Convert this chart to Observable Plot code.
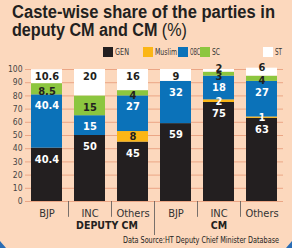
<!DOCTYPE html>
<html>
<head>
<meta charset="utf-8">
<script src="https://cdn.jsdelivr.net/npm/d3@7"></script>
<script src="https://cdn.jsdelivr.net/npm/@observablehq/plot@0.6"></script>
<style>
  html, body { margin: 0; padding: 0; }
  body { width: 292px; height: 248px; background: #fcd8bd; position: relative; overflow: hidden; font-family: "Liberation Sans Narrow", "DejaVu Sans Condensed", sans-serif; }
  #title { position: absolute; left: 12px; top: 3px; font-family: "Liberation Sans", sans-serif; font-weight: bold; font-size: 18px; line-height: 18px; color: #231f20; white-space: nowrap; }
  #title div { display: inline-block; transform-origin: 0 0; }
  #title .pct { font-weight: normal; }
  #legend { position: absolute; top: 47px; left: 0; width: 292px; height: 12px; }
  .lg { position: absolute; top: 0; height: 10px; white-space: nowrap; }
  .lg .sw { position: absolute; left: 0; top: 0; width: 10px; height: 10px; }
  .lg .tx { position: absolute; left: 12px; top: -1px; font-size: 9px; line-height: 12px; color: #333; transform-origin: 0 0; }
  #chart { position: absolute; left: 0; top: 60px; }
  #source { position: absolute; left: 123px; top: 235px; font-size: 9px; color: #222; white-space: nowrap; transform-origin: 0 0; }
  .corner { position: absolute; bottom: 0; width: 0; height: 0; }
</style>
</head>
<body>
<div id="title"><div id="t1">Caste-wise share of the parties in</div><br><div id="t2">deputy CM and CM <span class="pct">(%)</span></div></div>
<div id="legend"></div>
<div id="chart"></div>
<div id="source">Data Source:HT Deputy Chief Minister Database</div>
<div class="corner" style="left:0;border-bottom:7px solid #2a6db5;border-right:6px solid transparent;"></div>
<div class="corner" style="right:0;border-bottom:7px solid #2a6db5;border-left:6px solid transparent;"></div>
<script>
const parties = ["BJP", "INC", "Others", "BJP", "INC", "Others"];
const groups = ["DEPUTY CM", "DEPUTY CM", "DEPUTY CM", "CM", "CM", "CM"];
const castes = ["GEN", "Muslim", "OBC", "SC", "ST"];
const casteColors = ["#231f20", "#fbb616", "#0b72b9", "#8cc63f", "#ffffff"];
const GEN = [40.4, 50, 45, 59, 75, 63];
const Muslim = [0, 0, 8, 0, 2, 1];
const OBC = [40.4, 15, 27, 32, 18, 27];
const SC = [8.5, 15, 4, 0, 3, 4];
const ST = [10.6, 20, 16, 9, 2, 6];
const yTicks = [0, 10, 20, 30, 40, 50, 60, 70, 80, 90, 100];

const series = [GEN, Muslim, OBC, SC, ST];
const keys = parties.map((p, i) => groups[i] + "|" + p);
const rows = [];
castes.forEach((c, ci) => {
  series[ci].forEach((v, i) => rows.push({key: keys[i], caste: c, value: v, ci}));
});

function fitWidth(el, target) {
  const w = el.getBoundingClientRect().width;
  if (w > 0) el.style.transform = `scaleX(${target / w})`;
}
fitWidth(document.getElementById("t1"), 263);
fitWidth(document.getElementById("t2"), 175);
fitWidth(document.getElementById("source"), 156);

// legend
const legend = document.getElementById("legend");
const legendX = [103, 143, 178, 200, 263];
const legendTextW = [13, 21, 9, 7, 6];
castes.forEach((c, i) => {
  const d = document.createElement("div");
  d.className = "lg";
  d.style.left = legendX[i] + "px";
  d.innerHTML = `<span class="sw" style="background:${casteColors[i]}"></span><span class="tx">${c}</span>`;
  legend.appendChild(d);
  fitWidth(d.querySelector(".tx"), legendTextW[i] + 1);
});

const sepRows = [0, 1, 3, 4].map(i => ({key: keys[i], y2: -12}));
const groupSep = [{key: keys[2], y2: -26}];

const stackOpts = {x: "key", y: "value", z: "caste", order: castes};
const labelColor = d => {
  if (d.caste === "GEN" || d.caste === "OBC") return "#ffffff";
  if (d.caste === "Muslim") return d.value >= 5 ? "#231f20" : "#ffffff";
  return "#231f20";
};
const textStyle = {fontSize: 11, fontWeight: "bold", fill: labelColor};
// which segments have their label near the top vs the centre
const isTop = d => d.value > 0 && (d.caste === "GEN" || d.caste === "OBC");
const isMuslim = d => d.value > 0 && d.caste === "Muslim";
const isSC = d => d.value > 0 && d.caste === "SC";
const isStBig = d => d.value >= 9 && d.caste === "ST";
const isStSmall = d => d.value > 0 && d.value < 9 && d.caste === "ST";
const label = (pred) => (d) => pred(d) ? String(d.value) : null;

const chart = Plot.plot({
  width: 292,
  height: 175,
  marginLeft: 25,
  marginRight: 9,
  marginTop: 9,
  marginBottom: 34,
  style: {background: "transparent", fontFamily: "'Liberation Sans Narrow', 'DejaVu Sans Condensed', sans-serif"},
  x: {domain: keys, paddingInner: 0.28, paddingOuter: 0.14, axis: null},
  y: {domain: [0, 100], axis: null},
  color: {domain: castes, range: casteColors},
  marks: [
    Plot.ruleY(yTicks, {stroke: "#eba685", strokeWidth: 1}),
    Plot.text(yTicks, {y: d => d, frameAnchor: "left", dx: -3, textAnchor: "end", fontSize: 8.5, fill: "#444", text: d => String(d)}),
    Plot.barY(rows, Plot.stackY({...stackOpts, fill: "caste"})),
    Plot.text(rows, Plot.stackY({...stackOpts, text: label(isMuslim), ...textStyle, dy: 0})),
    Plot.text(rows, Plot.stackY({...stackOpts, text: label(isSC), ...textStyle, dy: 2})),
    Plot.text(rows, Plot.stackY2({...stackOpts, text: label(isTop), ...textStyle, dy: 11})),
    Plot.text(rows, Plot.stackY2({...stackOpts, text: label(isStBig), ...textStyle, dy: 7})),
    Plot.text(rows, Plot.stackY2({...stackOpts, text: label(isStSmall), ...textStyle, dy: -1})),
    Plot.ruleX(sepRows, {x: "key", y1: 0, y2: "y2", dx: 21.5, stroke: "#555", strokeWidth: 0.8}),
    Plot.ruleX(groupSep, {x: "key", y1: 0, y2: "y2", dx: 21.5, stroke: "#555", strokeWidth: 0.8}),
    Plot.text(keys, {x: d => d, y: 0, dy: 12, text: d => d.split("|")[1], fontSize: 11, fill: "#333"}),
    Plot.text([keys[1]], {x: d => d, y: 0, dy: 24, dx: 17, text: () => "DEPUTY CM", fontSize: 10.5, fontWeight: "bold", fill: "#231f20"}),
    Plot.text([keys[4]], {x: d => d, y: 0, dy: 24, text: () => "CM", fontSize: 10.5, fontWeight: "bold", fill: "#231f20"})
  ]
});
document.getElementById("chart").appendChild(chart);
</script>
</body>
</html>
